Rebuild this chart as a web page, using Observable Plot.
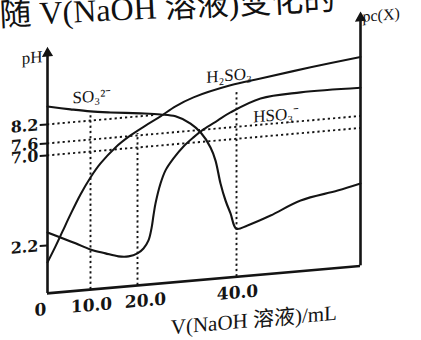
<!DOCTYPE html>
<html><head><meta charset="utf-8">
<script src="https://cdn.jsdelivr.net/npm/d3@7"></script>
<script src="https://cdn.jsdelivr.net/npm/@observablehq/plot@0.6"></script>
<style>
html,body{margin:0;padding:0;background:#fff;width:421px;height:340px;overflow:hidden;position:relative}
#title{position:absolute;left:0;top:-1px;font-size:32px;font-family:"Liberation Serif","Noto Sans CJK SC",serif;line-height:32px;white-space:nowrap;transform:rotate(-2.8deg);transform-origin:0 80%;color:#111}
#chart{position:absolute;left:0;top:0}
</style></head><body>
<div id="title">随 V(NaOH 溶液)变化的</div>
<div id="chart"></div>
<script>
// V(NaOH)/mL, with the value on the pH scale of the picture
const h2so3V = [0, 1.86, 3.49, 5.35, 7.67, 10, 12.13, 15.32, 18.51, 21.62, 24.65, 27.68, 31.31, 38.79, 44.85, 54.95, 65];
const h2so3Y = [1.42, 2.12, 2.87, 3.74, 4.76, 5.62, 6.32, 7.10, 7.62, 7.89, 8.14, 8.54, 8.91, 9.35, 9.56, 9.90, 10.20];
const hso3V = [0, 3.02, 6.51, 10, 13.19, 15.96, 18.09, 20, 21.21, 22.22, 22.83, 23.23, 23.64, 24.65, 25.66, 27.27, 29.29, 31.31, 33.33, 36.16, 38.79, 44.85, 52.93, 65];
const hso3Y = [2.89, 2.56, 2.18, 1.84, 1.60, 1.41, 1.37, 1.47, 1.67, 2.02, 2.62, 3.30, 3.93, 4.97, 5.65, 6.25, 6.84, 7.26, 7.61, 7.85, 8.07, 8.56, 8.69, 8.66];
const so3V = [0, 5.35, 10, 14.26, 20.61, 24.65, 27.68, 30.71, 32.73, 34.75, 35.76, 36.77, 37.78, 38.79, 40, 42.22, 46.87, 52.93, 60.4, 65];
const so3Y = [9.09, 8.85, 8.66, 8.52, 8.34, 8.20, 8.10, 7.83, 7.48, 6.66, 5.94, 4.69, 3.76, 3.05, 2.2, 2.33, 2.75, 3.41, 3.77, 4.04];

const curveNames = ["H₂SO₃", "HSO₃⁻", "SO₃²⁻"];
const curveLabelV = [38.5, 48, 10.3];
const curveLabelY = [9.85, 7.86, 9.4];

const yTicks = [2.2, 7.0, 7.6, 8.2];
const yTickLabels = ["2.2", "7.0", "7.6", "8.2"];
const xTicks = [0, 10, 20, 40];
const xTickLabels = ["0", "10.0", "20.0", "40.0"];

// dotted guide lines
const guideY = [8.2, 7.6, 7.0];
const guideYEnd = [23.5, 65, 65];
const guideV = [10, 20, 40];
const guideVTop = [8.45, 7.66, 9.05];

const vMax = 65, leftTop = 11.75, rightTop = 12.15;

// the sketch is not drawn to scale: piecewise warps of the value axes
const xWarp = d3.scaleLinear().domain([0, 10, 20, 40, vMax]).range([47, 90, 137, 236, 360]);
const yWarp = d3.scaleLinear().domain([0, 2.2, 7.0, 7.6, 8.2, 12.5]).range([279.5, 231.5, 141.5, 129.5, 110.5, 24.5]);

const series = [
  {name: curveNames[0], v: h2so3V, y: h2so3Y},
  {name: curveNames[1], v: hso3V, y: hso3Y},
  {name: curveNames[2], v: so3V, y: so3Y}
];
const table = [];
series.forEach(s => s.v.forEach((v, i) => table.push({name: s.name, v, y: s.y[i]})));
const hGuides = guideY.map((y, i) => ({y, x1: 0, x2: guideYEnd[i]}));
const vGuides = guideV.map((v, i) => ({v, y1: 0, y2: guideVTop[i]}));
const labels = curveNames.map((t, i) => ({t, v: curveLabelV[i], y: curveLabelY[i]}));
const yT = yTicks.map((y, i) => ({y, t: yTickLabels[i]}));
const xT = xTicks.map((v, i) => ({v, t: xTickLabels[i]}));
const xDx = [-7, 1, 8, 1];

const ink = "#141414";
const dash = {stroke: ink, strokeWidth: 1.9, strokeDasharray: "2.2,3"};
const numFont = {fontFamily: "DejaVu Serif", fontWeight: "bold", fontSize: 16, fill: ink};

const chart = Plot.plot({
  width: 421,
  height: 340,
  x: {transform: xWarp, domain: [0, 421], range: [0, 421], axis: null},
  y: {transform: yWarp, domain: [0, 340], range: [0, 340], axis: null},
  marks: [
    Plot.ruleY(hGuides, {y: "y", x1: "x1", x2: "x2", ...dash}),
    Plot.ruleX(vGuides, {x: "v", y1: "y1", y2: "y2", ...dash}),
    Plot.line(table, {x: "v", y: "y", z: "name", curve: "catmull-rom", stroke: ink, strokeWidth: 2.1}),
    // axes
    Plot.ruleY([{y: 0}], {y: "y", x1: () => 0, x2: () => vMax, stroke: ink, strokeWidth: 2.6}),
    Plot.ruleX([{v: 0, top: leftTop}], {x: "v", y1: () => 0, y2: "top", stroke: ink, strokeWidth: 2.6}),
    Plot.ruleX([{v: vMax, top: rightTop}], {x: "v", y1: () => 0, y2: "top", stroke: ink, strokeWidth: 2.6}),
    Plot.dot([{v: 0, y: leftTop}, {v: vMax, y: rightTop}], {x: "v", y: "y", symbol: "triangle", r: 3.2, fill: ink, stroke: ink}),
    // left ticks
    Plot.ruleY(yT, {y: "y", x1: () => -1.7, x2: () => 0, stroke: ink, strokeWidth: 2}),
    Plot.text(yT, {x: () => 0, y: "y", text: "t", textAnchor: "end", dx: -9, ...numFont}),
    // bottom tick labels
    ...xT.map((d, i) => Plot.text([d], {x: "v", y: () => 0, text: "t", dy: 16, dx: xDx[i], ...numFont, fontSize: 17})),
    // curve labels
    Plot.text(labels, {x: "v", y: "y", text: "t", fontFamily: "Liberation Serif", fontSize: 17, fill: ink}),
    // axis titles
    Plot.text([{v: 0, y: 11.6, t: "pH"}], {x: "v", y: "y", text: "t", textAnchor: "end", dx: -5, fontFamily: "Liberation Serif", fontSize: 17, fill: ink}),
    Plot.text([{v: vMax, y: 12.2, t: "pc(X)"}], {x: "v", y: "y", text: "t", textAnchor: "start", dx: 2, fontFamily: "Liberation Serif", fontSize: 16, fill: ink}),
    Plot.text([{v: 43.5, y: 0, t: "V(NaOH 溶液)/mL"}], {x: "v", y: "y", text: "t", dy: 45, fontFamily: "Liberation Serif, Noto Sans CJK SC", fontSize: 21, fill: ink})
  ]
});
chart.style.overflow = "visible";
chart.style.background = "transparent";
chart.style.transform = "skewY(-5deg)";
chart.style.transformOrigin = "200px 0px";
document.getElementById("chart").appendChild(chart);
</script>
</body></html>
